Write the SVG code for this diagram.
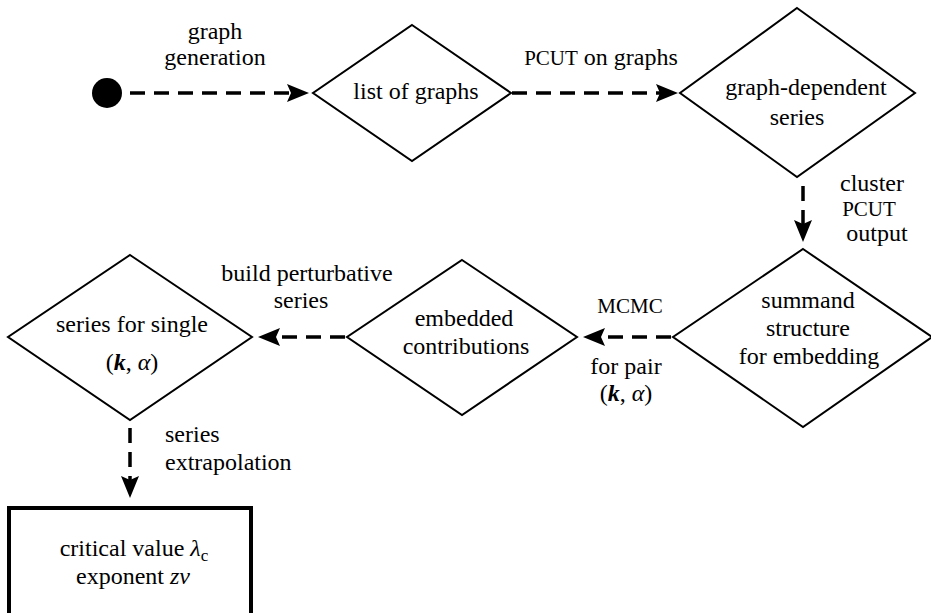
<svg xmlns="http://www.w3.org/2000/svg" width="931" height="613" viewBox="0 0 931 613">
<style>
  .dnode { fill: #fff; stroke: #000; stroke-width: 2; stroke-linejoin: miter; }
  .dbox { fill: #fff; stroke: #000; stroke-width: 4; }
  .dconn { fill: none; stroke: #000; stroke-width: 3.5; stroke-dasharray: 15 9; marker-end: url(#arr); }
</style>
<defs>
  <marker id="arr" markerUnits="userSpaceOnUse" markerWidth="22" markerHeight="20" viewBox="0 0 22 20" refX="14" refY="10" orient="auto">
    <path d="M0,1 L22,10 L0,19 L4,10 Z" fill="#000"/>
  </marker>
</defs>

<g id="connectors">
  <path class="dconn" d="M130,93 H301"/>
  <path class="dconn" d="M512,93 H670"/>
  <path class="dconn" d="M803,186 V234"/>
  <path class="dconn" d="M671,337 H591"/>
  <path class="dconn" d="M345,337 H266"/>
  <path class="dconn" d="M130,428 V490"/>
</g>

<g id="edge-labels" fill="#000">
  <text x="215" y="39" font-family="Liberation Serif" font-size="24" text-anchor="middle">graph</text>
  <text x="215" y="65" font-family="Liberation Serif" font-size="24" text-anchor="middle">generation</text>
  <text x="601" y="65" font-family="Liberation Serif" font-size="24" text-anchor="middle"><tspan font-size="21">PCUT</tspan> on graphs</text>
  <text x="872" y="191" font-family="Liberation Serif" font-size="24" text-anchor="middle">cluster</text>
  <text x="869" y="216" font-family="Liberation Serif" font-size="21" text-anchor="middle">PCUT</text>
  <text x="877" y="241" font-family="Liberation Serif" font-size="24" text-anchor="middle">output</text>
  <text x="630" y="313" font-family="Liberation Serif" font-size="21" text-anchor="middle">MCMC</text>
  <text x="626" y="374" font-family="Liberation Serif" font-size="24" text-anchor="middle">for pair</text>
  <text x="626" y="401" font-family="Liberation Serif" font-size="24" text-anchor="middle">(<tspan font-style="italic" font-weight="bold">k</tspan>, <tspan font-style="italic">α</tspan>)</text>
  <text x="307" y="281" font-family="Liberation Serif" font-size="24" text-anchor="middle">build perturbative</text>
  <text x="301" y="308" font-family="Liberation Serif" font-size="24" text-anchor="middle">series</text>
  <text x="165" y="442" font-family="Liberation Serif" font-size="24">series</text>
  <text x="165" y="470" font-family="Liberation Serif" font-size="24">extrapolation</text>
</g>

<g id="start">
  <circle cx="107" cy="93" r="15" fill="#000"/>
</g>

<g id="list-of-graphs">
  <polygon class="dnode" points="412,25 511,93 412,161 313,93"/>
  <text x="416" y="99" font-family="Liberation Serif" font-size="24" text-anchor="middle">list of graphs</text>
</g>

<g id="graph-dependent-series">
  <polygon class="dnode" points="797,8 915,93 797,177 680,93"/>
  <text x="806" y="95" font-family="Liberation Serif" font-size="24" text-anchor="middle">graph-dependent</text>
  <text x="797" y="125" font-family="Liberation Serif" font-size="24" text-anchor="middle">series</text>
</g>

<g id="summand-structure">
  <polygon class="dnode" points="803,249 932,337 803,427 673,337"/>
  <text x="808" y="308" font-family="Liberation Serif" font-size="24" text-anchor="middle">summand</text>
  <text x="808" y="336" font-family="Liberation Serif" font-size="24" text-anchor="middle">structure</text>
  <text x="809" y="364" font-family="Liberation Serif" font-size="24" text-anchor="middle">for embedding</text>
</g>

<g id="embedded-contributions">
  <polygon class="dnode" points="462,260 577,337 462,415 347,337"/>
  <text x="464" y="326" font-family="Liberation Serif" font-size="24" text-anchor="middle">embedded</text>
  <text x="466" y="354" font-family="Liberation Serif" font-size="24" text-anchor="middle">contributions</text>
</g>

<g id="series-single">
  <polygon class="dnode" points="130,255 252,337 130,420 8,337"/>
  <text x="132" y="332" font-family="Liberation Serif" font-size="24" text-anchor="middle">series for single</text>
  <text x="132" y="370" font-family="Liberation Serif" font-size="24" text-anchor="middle">(<tspan font-style="italic" font-weight="bold">k</tspan>, <tspan font-style="italic">α</tspan>)</text>
</g>

<g id="result">
  <rect class="dbox" x="9" y="508" width="242" height="120"/>
  <text x="134" y="556" font-family="Liberation Serif" font-size="24" text-anchor="middle">critical value <tspan font-style="italic">λ</tspan><tspan font-size="17" dy="5">c</tspan></text>
  <text x="133" y="584" font-family="Liberation Serif" font-size="24" text-anchor="middle">exponent <tspan font-style="italic">zν</tspan></text>
</g>
</svg>
